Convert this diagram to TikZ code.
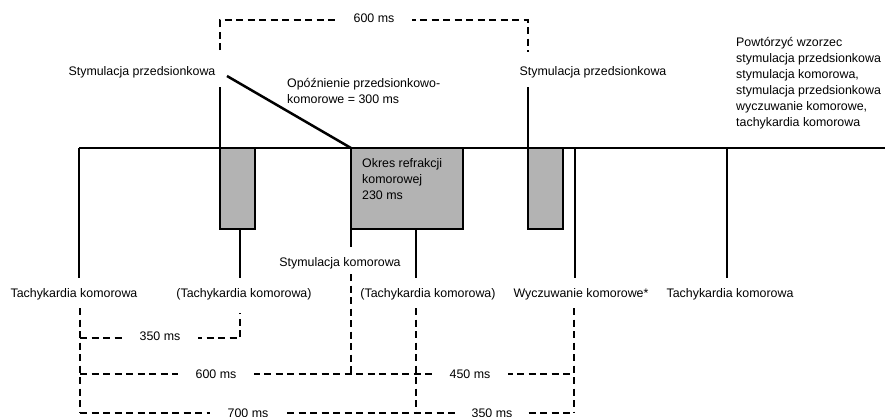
\documentclass[tikz,border=0pt]{standalone}
\usepackage{fontspec}
\setmainfont{Liberation Sans}
\definecolor{boxgray}{HTML}{B3B3B3}
\begin{document}
\begin{tikzpicture}[x=1pt,y=-1pt,
  main/.style={line width=2.5pt},
  dline/.style={line width=1.3pt, dash pattern=on 7pt off 4.5pt},
  lbl/.style={font=\fontsize{12.4}{16}\selectfont, inner sep=0pt, anchor=base},
  blk/.style={lbl, anchor=base west, align=left},
  gaplbl/.style={lbl, fill=white, inner xsep=18pt, inner ysep=2pt}]
\useasboundingbox (0,0) rectangle (885,416);
% key coordinates
\coordinate (h0) at (79,148);
\coordinate (h1) at (885,148);
\coordinate (tk1) at (79,278);
\coordinate (a1) at (220,148);
\coordinate (a1t) at (220,87);
\coordinate (b1a) at (220,148);
\coordinate (b1b) at (255,229);
\coordinate (t2a) at (240,229);
\coordinate (t2b) at (240,278);
\coordinate (d0) at (227,76);
\coordinate (d1) at (351,148);
\coordinate (b2a) at (351,148);
\coordinate (b2b) at (463,229);
\coordinate (vpa) at (351,229);
\coordinate (vpb) at (351,247);
\coordinate (t3a) at (416,229);
\coordinate (t3b) at (416,278);
\coordinate (a2) at (528,148);
\coordinate (a2t) at (528,87);
\coordinate (b3a) at (528,148);
\coordinate (b3b) at (563,229);
\coordinate (s1a) at (575,148);
\coordinate (s1b) at (575,278);
\coordinate (t4a) at (727,148);
\coordinate (t4b) at (727,278);
% solid structure
\draw[main, fill=boxgray] (b1a) rectangle (b1b);
\draw[main, fill=boxgray] (b2a) rectangle (b2b);
\draw[main, fill=boxgray] (b3a) rectangle (b3b);
\draw[main] (h0) -- (h1);
\draw[main] (h0) -- (tk1);
\draw[main] (a1t) -- (a1);
\draw[main] (t2a) -- (t2b);
\draw[main] (d0) -- (d1);
\draw[main] (vpa) -- (vpb);
\draw[main] (t3a) -- (t3b);
\draw[main] (a2t) -- (a2);
\draw[main] (s1a) -- (s1b);
\draw[main] (t4a) -- (t4b);
% dashed intervals
\draw[dline] (220,50) -- (220,20) -- (528,20) -- (528,52);
\draw[dline] (80,308) -- (80,413);
\draw[dline] (80,338) -- (240,338) -- (240,313);
\draw[dline] (80,374) -- (574,374);
\draw[dline] (351,274) -- (351,374);
\draw[dline] (416,308) -- (416,413);
\draw[dline] (574,308) -- (574,413);
\draw[dline] (80,413) -- (574,413);
% interval labels
\node[gaplbl] (l600t) at (374,22.5) {600 ms};
\node[gaplbl] (l350a) at (160,340.5) {350 ms};
\node[gaplbl] (l600b) at (216,378.5) {600 ms};
\node[gaplbl] (l450) at (470,378.5) {450 ms};
\node[gaplbl] (l700) at (248,417.5) {700 ms};
\node[gaplbl, inner xsep=14pt] (l350b) at (492,417.5) {350 ms};
% event labels (multi-line nodes: base = baseline of last line)
\node[lbl] (sa1) at (142,75.5) {Stymulacja przedsionkowa};
\node[lbl] (sa2) at (593,75.5) {Stymulacja przedsionkowa};
\node[blk] (av) at (287,103.5) {Opóźnienie przedsionkowo-\\komorowe = 300 ms};
\node[blk] (ref) at (362,199.5) {Okres refrakcji\\komorowej\\230 ms};
\node[blk] (rep) at (736,126.5) {Powtórzyć wzorzec\\stymulacja przedsionkowa\\stymulacja komorowa,\\stymulacja przedsionkowa\\wyczuwanie komorowe,\\tachykardia komorowa};
\node[lbl] (sv) at (340,266.5) {Stymulacja komorowa};
\node[lbl] (tl1) at (74,297.5) {Tachykardia komorowa};
\node[lbl] (tl2) at (244,297.5) {(Tachykardia komorowa)};
\node[lbl] (tl3) at (428,297.5) {(Tachykardia komorowa)};
\node[lbl] (wk) at (581,297.5) {Wyczuwanie komorowe*};
\node[lbl] (tl4) at (730,297.5) {Tachykardia komorowa};
\end{tikzpicture}
\end{document}
